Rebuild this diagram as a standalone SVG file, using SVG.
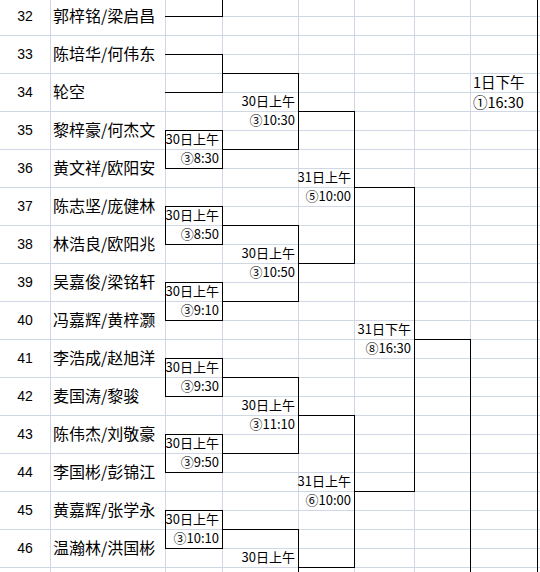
<svg xmlns="http://www.w3.org/2000/svg" width="540" height="572" viewBox="0 0 540 572">
<style>
.bg{fill:#ffffff}
.grid{stroke:#d0d7e5;stroke-width:1;fill:none;shape-rendering:crispEdges}
.ln{stroke:#000;stroke-width:1.2;fill:none;shape-rendering:crispEdges}
.num{font-family:"Liberation Sans","DejaVu Sans",sans-serif;font-size:14px;fill:#000;text-anchor:middle}
.nm{font-family:"Noto Sans CJK SC","Noto Sans",sans-serif;font-size:16px;fill:#000}
.lb{font-family:"Noto Sans CJK SC","Noto Sans",sans-serif;font-size:13px;fill:#000;text-anchor:end}
.lbl{font-family:"Noto Sans CJK SC","Noto Sans",sans-serif;font-size:14.5px;fill:#000}
</style>
<rect class="bg" x="0" y="0" width="540" height="572"/>
<g id="grid" class="grid">
<path d="M50.5 0V572M165.5 0V572M222.5 0V572M298.5 0V572M354.5 0V572M414.5 0V572M470.5 0V572M537.5 0V572"/>
<path d="M0 35.5H165M0 73.5H165M0 111.5H165M0 149.5H165M0 187.5H165M0 225.5H165M0 263.5H165M0 301.5H165M0 339.5H165M0 377.5H165M0 415.5H165M0 453.5H165M0 491.5H165M0 529.5H165M0 567.5H165"/>
<path d="M165 16.5H540M165 35.5H540M165 54.5H540M165 73.5H540M165 92.5H540M165 111.5H540M165 130.5H540M165 149.5H540M165 168.5H540M165 187.5H540M165 206.5H540M165 225.5H540M165 244.5H540M165 263.5H540M165 282.5H540M165 301.5H540M165 320.5H540M165 339.5H540M165 358.5H540M165 377.5H540M165 396.5H540M165 415.5H540M165 434.5H540M165 453.5H540M165 472.5H540M165 491.5H540M165 510.5H540M165 529.5H540M165 548.5H540M165 567.5H540"/>
</g>
<g id="connectors" class="ln">
<path d="M165 16.5H222.5V0"/>
<path d="M165 54.5H222.5V92.5H165M222.5 73.5H298.5"/>
<path d="M165.5 130.5H222.5V168.5H165.5ZM222.5 149.5H298.5"/>
<path d="M165.5 206.5H222.5V244.5H165.5ZM222.5 225.5H298.5"/>
<path d="M165.5 282.5H222.5V320.5H165.5ZM222.5 301.5H298.5"/>
<path d="M165.5 358.5H222.5V396.5H165.5ZM222.5 377.5H298.5"/>
<path d="M165.5 434.5H222.5V472.5H165.5ZM222.5 453.5H298.5"/>
<path d="M165.5 510.5H222.5V548.5H165.5ZM222.5 529.5H298.5"/>
<path d="M298.5 73.5V149.5M298.5 111.5H354.5"/>
<path d="M298.5 225.5V301.5M298.5 263.5H354.5"/>
<path d="M298.5 377.5V453.5M298.5 415.5H354.5"/>
<path d="M298.5 529.5V572M298.5 567.5H354.5"/>
<path d="M354.5 111.5V263.5M354.5 187.5H414.5"/>
<path d="M354.5 415.5V567.5M354.5 491.5H414.5"/>
<path d="M414.5 187.5V491.5M414.5 339.5H470.5"/>
<path d="M470.5 339.5V572"/>
<path d="M537.5 0V572"/>
</g>
<g id="p32"><text class="num" x="25" y="21">32</text><text class="nm" x="53" y="22">郭梓铭/梁启昌</text></g>
<g id="p33"><text class="num" x="25" y="59">33</text><text class="nm" x="53" y="60">陈培华/何伟东</text></g>
<g id="p34"><text class="num" x="25" y="97">34</text><text class="nm" x="53" y="98">轮空</text></g>
<g id="p35"><text class="num" x="25" y="135">35</text><text class="nm" x="53" y="136">黎梓豪/何杰文</text></g>
<g id="p36"><text class="num" x="25" y="173">36</text><text class="nm" x="53" y="174">黄文祥/欧阳安</text></g>
<g id="p37"><text class="num" x="25" y="211">37</text><text class="nm" x="53" y="212">陈志坚/庞健林</text></g>
<g id="p38"><text class="num" x="25" y="249">38</text><text class="nm" x="53" y="250">林浩良/欧阳兆</text></g>
<g id="p39"><text class="num" x="25" y="287">39</text><text class="nm" x="53" y="288">吴嘉俊/梁铭轩</text></g>
<g id="p40"><text class="num" x="25" y="325">40</text><text class="nm" x="53" y="326">冯嘉辉/黄梓灏</text></g>
<g id="p41"><text class="num" x="25" y="363">41</text><text class="nm" x="53" y="364">李浩成/赵旭洋</text></g>
<g id="p42"><text class="num" x="25" y="401">42</text><text class="nm" x="53" y="402">麦国涛/黎骏</text></g>
<g id="p43"><text class="num" x="25" y="439">43</text><text class="nm" x="53" y="440">陈伟杰/刘敬豪</text></g>
<g id="p44"><text class="num" x="25" y="477">44</text><text class="nm" x="53" y="478">李国彬/彭锦江</text></g>
<g id="p45"><text class="num" x="25" y="515">45</text><text class="nm" x="53" y="516">黄嘉辉/张学永</text></g>
<g id="p46"><text class="num" x="25" y="553">46</text><text class="nm" x="53" y="554">温瀚林/洪国彬</text></g>
<g id="m35-36"><text class="lb" x="219" y="144">30日上午</text><text class="lb" x="219" y="163">③8:30</text></g>
<g id="m37-38"><text class="lb" x="219" y="220">30日上午</text><text class="lb" x="219" y="239">③8:50</text></g>
<g id="m39-40"><text class="lb" x="219" y="296">30日上午</text><text class="lb" x="219" y="315">③9:10</text></g>
<g id="m41-42"><text class="lb" x="219" y="372">30日上午</text><text class="lb" x="219" y="391">③9:30</text></g>
<g id="m43-44"><text class="lb" x="219" y="448">30日上午</text><text class="lb" x="219" y="467">③9:50</text></g>
<g id="m45-46"><text class="lb" x="219" y="524">30日上午</text><text class="lb" x="219" y="543">③10:10</text></g>
<g id="r2a"><text class="lb" x="295" y="106">30日上午</text><text class="lb" x="295" y="125">③10:30</text></g>
<g id="r2b"><text class="lb" x="295" y="258">30日上午</text><text class="lb" x="295" y="277">③10:50</text></g>
<g id="r2c"><text class="lb" x="295" y="410">30日上午</text><text class="lb" x="295" y="429">③11:10</text></g>
<g id="r2d"><text class="lb" x="295" y="562">30日上午</text></g>
<g id="r3a"><text class="lb" x="351" y="182">31日上午</text><text class="lb" x="351" y="201">⑤10:00</text></g>
<g id="r3b"><text class="lb" x="351" y="486">31日上午</text><text class="lb" x="351" y="505">⑥10:00</text></g>
<g id="r4"><text class="lb" x="411" y="334">31日下午</text><text class="lb" x="411" y="353">⑧16:30</text></g>
<g id="final"><text class="lbl" x="473" y="88">1日下午</text><text class="lbl" x="473" y="108">①16:30</text></g>
</svg>
